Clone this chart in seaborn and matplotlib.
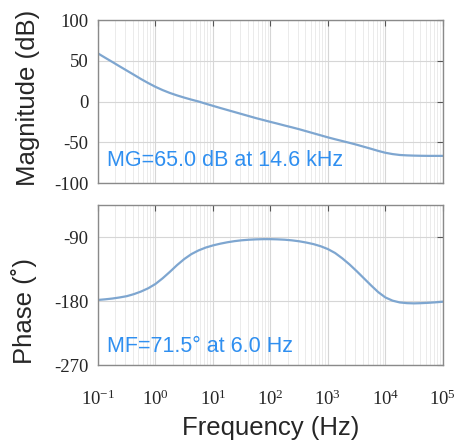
import numpy as np
import pandas as pd
import matplotlib
matplotlib.use("Agg")
import matplotlib.pyplot as plt
from matplotlib.ticker import LogLocator, NullFormatter, FixedLocator, FixedFormatter
import seaborn as sns

# Frequency grid (log10 Hz, eighth-decade steps) and the open-loop response at each point
log_freq = [-1.0, -0.875, -0.75, -0.625, -0.5, -0.375, -0.25, -0.125,
            0.0, 0.125, 0.25, 0.375, 0.5, 0.625, 0.75, 0.875,
            1.0, 1.125, 1.25, 1.375, 1.5, 1.625, 1.75, 1.875,
            2.0, 2.125, 2.25, 2.375, 2.5, 2.625, 2.75, 2.875,
            3.0, 3.125, 3.25, 3.375, 3.5, 3.625, 3.75, 3.875,
            4.0, 4.125, 4.25, 4.375, 4.5, 4.625, 4.75, 4.875, 5.0]
magnitude_db = [59, 53.7, 48.5, 43.2, 38, 32.8, 27.5, 22.6,
                18, 14, 10.5, 7.5, 4.8, 2.3, 0, -2.7,
                -5.3, -7.9, -10.4, -12.9, -15.4, -17.9, -20.4, -22.7,
                -25, -27.2, -29.5, -31.7, -34, -36.5, -39, -41.5,
                -44, -46.3, -48.5, -50.7, -53, -55.5, -58, -60.6,
                -62.9, -64.5, -65.6, -66.1, -66.4, -66.6, -66.7, -66.7, -66.7]
phase_deg = [-178.5, -177.6, -176.5, -175, -173.2, -170.3, -166.6, -162,
             -156, -148, -139, -129.5, -121, -114, -108.8, -104.8,
             -101.8, -99.4, -97.4, -95.8, -94.6, -93.8, -93.3, -93.0,
             -93, -93.3, -93.8, -94.7, -96, -97.8, -100, -103,
             -107, -112.5, -120, -128.5, -138, -148, -158, -167.5,
             -175, -179.5, -182, -183, -183.3, -183, -182.5, -181.8, -181]

mag_ticks = [100, 50, 0, -50, -100]
mag_tick_labels = ["100", "50", "0", "-50", "-100"]
phase_ticks = [-90, -180, -270]
phase_tick_labels = ["-90", "-180", "-270"]
freq_ticks = [1e-1, 1e0, 1e1, 1e2, 1e3, 1e4, 1e5]
freq_tick_labels = [r"$\mathregular{10^{-1}}$", r"$\mathregular{10^{0}}$", r"$\mathregular{10^{1}}$",
                    r"$\mathregular{10^{2}}$", r"$\mathregular{10^{3}}$", r"$\mathregular{10^{4}}$",
                    r"$\mathregular{10^{5}}$"]

gain_margin_text = "MG=65.0 dB at 14.6 kHz"
phase_margin_text = "MF=71.5° at 6.0 Hz"

df = pd.DataFrame({
    "freq": [10 ** v for v in log_freq],
    "mag": magnitude_db,
    "phase": phase_deg,
})

sns.set_style("white")
plt.rcParams["font.family"] = ["Liberation Sans", "DejaVu Sans"]
plt.rcParams["axes.unicode_minus"] = False

line_color = "#7ea6d0"
text_color = "#2f8ff0"
spine_color = "#8a8a8a"

fig = plt.figure(figsize=(4.55, 4.41), dpi=100)
ax_mag = fig.add_axes([0.2154, 0.585, 0.758, 0.3696])
ax_ph = fig.add_axes([0.2154, 0.1723, 0.758, 0.3628])

sns.lineplot(data=df, x="freq", y="mag", ax=ax_mag, color=line_color, linewidth=1.6)
sns.lineplot(data=df, x="freq", y="phase", ax=ax_ph, color=line_color, linewidth=1.6)

for ax in (ax_mag, ax_ph):
    ax.set_xscale("log")
    ax.set_xlim(1e-1, 1e5)
    ax.xaxis.set_major_locator(FixedLocator(freq_ticks))
    ax.xaxis.set_minor_locator(LogLocator(base=10, subs=np.arange(2, 10), numticks=20))
    ax.xaxis.set_minor_formatter(NullFormatter())
    ax.grid(True, which="major", color="#d6d6d6", linewidth=0.8)
    ax.grid(True, which="minor", axis="x", color="#e8e8e8", linewidth=0.6)
    for s in ax.spines.values():
        s.set_visible(True)
        s.set_color(spine_color)
        s.set_linewidth(1.0)
    ax.tick_params(which="major", direction="in", length=4, width=0.8, color="#555555",
                   top=True, right=True, labelsize=13.5, pad=7)
    ax.tick_params(which="minor", direction="in", length=0, top=True, right=True)
    ax.tick_params(axis="x", which="major", pad=18)

ax_mag.set_ylim(-100, 100)
ax_mag.yaxis.set_major_locator(FixedLocator(mag_ticks))
ax_mag.yaxis.set_major_formatter(FixedFormatter(mag_tick_labels))
ax_mag.set_xticklabels([])
ax_mag.set_xlabel("")
ax_mag.set_ylabel("Magnitude (dB)", fontsize=18.5)
ax_mag.yaxis.set_label_coords(-0.168, 0.52)

ax_ph.set_ylim(-270, -45)
ax_ph.yaxis.set_major_locator(FixedLocator(phase_ticks))
ax_ph.yaxis.set_major_formatter(FixedFormatter(phase_tick_labels))
ax_ph.xaxis.set_major_formatter(FixedFormatter(freq_tick_labels))
ax_ph.set_xlabel("Frequency (Hz)", fontsize=18.5, labelpad=5)
ax_ph.set_ylabel("Phase (˚)", fontsize=18.5)
ax_ph.yaxis.set_label_coords(-0.176, 0.34)

for ax in (ax_mag, ax_ph):
    for lab in ax.get_yticklabels() + ax.get_xticklabels():
        lab.set_family("Liberation Serif")
        lab.set_fontsize(13.5)

ax_mag.text(0.026, 0.14, gain_margin_text, transform=ax_mag.transAxes, color=text_color,
            fontsize=15.5, va="center", ha="left")
ax_ph.text(0.026, 0.115, phase_margin_text, transform=ax_ph.transAxes, color=text_color,
           fontsize=15.5, va="center", ha="left")

fig.savefig("out.png", dpi=100)
